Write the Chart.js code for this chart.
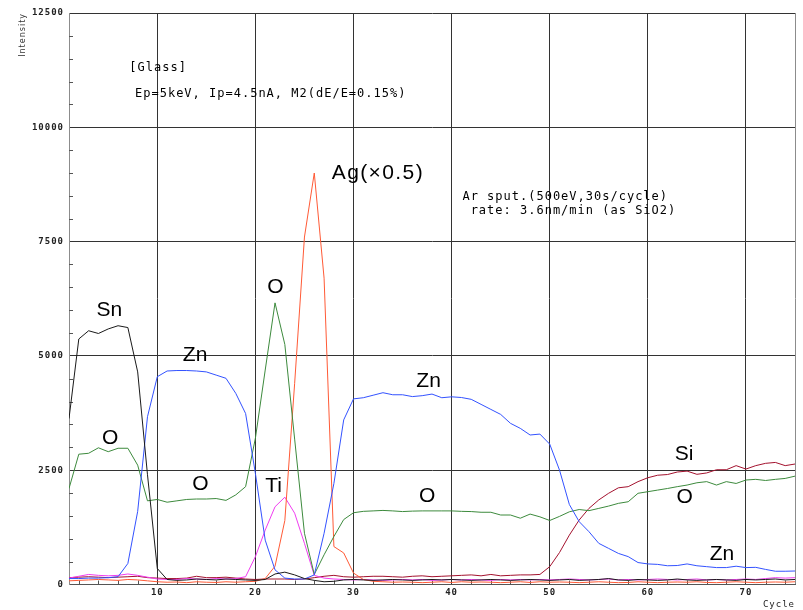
<!DOCTYPE html>
<html>
<head>
<meta charset="utf-8">
<script src="https://cdn.jsdelivr.net/npm/chart.js@4.4.1/dist/chart.umd.min.js"></script>
<style>
  html, body { margin: 0; padding: 0; background: #fff; }
  #wrap { width: 803px; height: 610px; }
</style>
</head>
<body>
<div id="wrap"><canvas id="chart" width="803" height="610"></canvas></div>
<script>
// ── Depth profile data (counts per sputter cycle) ──
const cycles = Array.from({ length: 75 }, (_, i) => i + 1);

const sn = [3630, 5370, 5550, 5490, 5590, 5660, 5620, 4650, 2400, 350,
            110, 90, 100, 120, 110, 100, 120, 110, 100, 90,
            110, 230, 270, 210, 130, 90, 60, 70, 100, 110,
            100, 90, 100, 110, 100, 90, 100, 110, 100, 110,
            100, 90, 100, 110, 100, 90, 100, 110, 100, 90,
            100, 110, 90, 100, 110, 130, 100, 90, 110, 100,
            90, 100, 120, 100, 90, 100, 110, 100, 90, 110,
            100, 110, 120, 100, 110];

const zn = [130, 130, 140, 140, 150, 170, 460, 1600, 3670, 4545,
            4670, 4680, 4680, 4670, 4650, 4580, 4510, 4180, 3740, 2430,
            970, 320, 140, 120, 120, 210, 1120, 2210, 3600, 4060,
            4085, 4140, 4195, 4150, 4150, 4110, 4130, 4165, 4085, 4105,
            4090, 4050, 3940, 3830, 3720, 3525, 3415, 3270, 3290, 3070,
            2500, 1750, 1375, 1155, 900, 790, 680, 610, 480, 450,
            440, 410, 415, 450, 410, 390, 370, 370, 400, 370,
            375, 330, 290, 290, 295];

const oxy = [2100, 2850, 2870, 2990, 2905, 2980, 2980, 2610, 1830, 1860,
             1800, 1830, 1860, 1870, 1870, 1880, 1840, 1960, 2140, 3200,
             4690, 6160, 5250, 3180, 1120, 220, 650, 1050, 1420, 1570,
             1600, 1610, 1620, 1610, 1595, 1605, 1610, 1610, 1610, 1610,
             1600, 1595, 1580, 1580, 1520, 1520, 1450, 1540, 1480, 1400,
             1490, 1590, 1640, 1615, 1665, 1715, 1775, 1810, 1995, 2030,
             2065, 2100, 2140, 2175, 2225, 2250, 2175, 2250, 2210, 2285,
             2300, 2275, 2300, 2320, 2370];

const ag = [80, 90, 100, 110, 100, 90, 110, 100, 80, 60,
            50, 55, 40, 60, 50, 45, 60, 50, 60, 70,
            130, 400, 1400, 4400, 7600, 9000, 6700, 830, 690, 250,
            110, 70, 60, 50, 55, 50, 40, 50, 60, 45,
            60, 50, 55, 50, 40, 50, 60, 45, 60, 50,
            55, 50, 40, 50, 60, 50, 40, 45, 60, 50,
            40, 50, 55, 50, 60, 45, 40, 50, 60, 50,
            40, 50, 55, 50, 60];

const ti = [140, 180, 220, 200, 190, 200, 230, 200, 160, 120,
            110, 110, 130, 120, 110, 130, 120, 130, 170, 610,
            1190, 1700, 1910, 1560, 900, 200, 140, 120, 110, 100,
            110, 100, 90, 100, 110, 100, 110, 90, 100, 110,
            100, 110, 100, 90, 110, 100, 110, 100, 110, 100,
            110, 120, 110, 100, 110, 120, 100, 110, 100, 110,
            120, 110, 100, 110, 120, 100, 110, 100, 110, 120,
            110, 130, 150, 140, 150];

const si = [150, 160, 170, 160, 150, 160, 170, 180, 150, 140,
            130, 130, 140, 180, 150, 150, 160, 140, 120, 110,
            120, 120, 120, 110, 120, 150, 180, 200, 170, 160,
            170, 180, 180, 170, 160, 180, 190, 170, 180, 190,
            200, 210, 190, 220, 190, 200, 210, 210, 220, 390,
            700, 1080, 1410, 1665, 1850, 1995, 2115, 2140, 2250, 2335,
            2390, 2405, 2460, 2480, 2410, 2440, 2510, 2510, 2600, 2525,
            2600, 2650, 2670, 2600, 2635];

// x ticks: labelled every 10 cycles, small marks every 2
const xMajor = [10, 20, 30, 40, 50, 60, 70];
const yMajor = [0, 2500, 5000, 7500, 10000, 12500];

// ── Element tags and header notes (anchored in data coords) ──
const tags = [
    ['Sn', 5.1, 6000], ['Zn', 13.85, 5010], ['O', 5.2, 3200], ['O', 14.4, 2200],
    ['O', 22.05, 6500], ['Ti', 21.85, 2160], ['Zn', 37.65, 4455], ['O', 37.5, 1940],
    ['Si', 63.7, 2860], ['O', 63.75, 1905], ['Zn', 67.55, 670],
];
const notes = [
    ['[Glass]', 7.15, 11290],
    ['Ep=5keV, Ip=4.5nA, M2(dE/E=0.15%)', 7.73, 10730],
    ['Ar sput.(500eV,30s/cycle)', 41.1, 8475],
    [' rate: 3.6nm/min (as SiO2)', 41.1, 8170],
];

const pts = arr => arr.map((v, i) => ({ x: cycles[i], y: v }));

function series(label, values, color) {
    return {
        label,
        data: pts(values),
        borderColor: color,
        backgroundColor: color,
        borderWidth: 1,
        pointRadius: 0,
        tension: 0,
    };
}

// ── Overlay: inner tick marks + annotation text ──
const overlay = {
    id: 'overlay',
    beforeDraw(chart) {
        chart.ctx.letterSpacing = '1px';
    },
    beforeDatasetsDraw(chart) {
        const { ctx, chartArea: a, scales: { x, y } } = chart;
        ctx.save();
        ctx.strokeStyle = '#555';
        ctx.lineWidth = 1;
        ctx.beginPath();
        y.ticks.forEach(t => {
            if (yMajor.includes(t.value)) return;
            const py = Math.round(y.getPixelForValue(t.value)) + 0.5;
            ctx.moveTo(a.left, py);
            ctx.lineTo(a.left + 4, py);
        });
        x.ticks.forEach(t => {
            if (xMajor.includes(t.value) || t.value === 75) return;
            const px = Math.round(x.getPixelForValue(t.value)) + 0.5;
            ctx.moveTo(px, a.bottom);
            ctx.lineTo(px, a.bottom - 4);
        });
        ctx.stroke();
        ctx.restore();
    },
    afterDatasetsDraw(chart) {
        const { ctx, scales: { x, y } } = chart;
        ctx.save();
        ctx.fillStyle = '#000';
        ctx.textBaseline = 'middle';

        ctx.letterSpacing = '0px';
        ctx.font = "21px 'Liberation Sans', Arial, sans-serif";
        ctx.textAlign = 'center';
        tags.forEach(([t, cx, cy]) => ctx.fillText(t, x.getPixelForValue(cx), y.getPixelForValue(cy)));
        // the × in the original is a wide glyph, so space this label out a bit
        ctx.textAlign = 'left';
        ctx.letterSpacing = '1.4px';
        ctx.fillText('Ag(×0.5)', x.getPixelForValue(27.78), y.getPixelForValue(8990));

        ctx.letterSpacing = '1px';
        ctx.font = "12px 'DejaVu Sans Mono', monospace";
        notes.forEach(([t, cx, cy]) => ctx.fillText(t, x.getPixelForValue(cx), y.getPixelForValue(cy)));
        ctx.restore();
    }
};

const tickFont = { family: "'DejaVu Sans Mono', monospace", size: 9, weight: 'bold' };

new Chart(document.getElementById('chart'), {
    type: 'line',
    data: {
        datasets: [
            series('Sn', sn, '#1a1a1a'),
            series('Zn', zn, '#3352ff'),
            series('O', oxy, '#3d8a3d'),
            series('Ag', ag, '#ff5a36'),
            series('Ti', ti, '#f03cf0'),
            series('Si', si, '#a3122e'),
        ]
    },
    options: {
        responsive: false,
        animation: false,
        layout: { padding: { top: 13, right: 8, left: 0, bottom: 0 } },
        plugins: {
            legend: { display: false },
            tooltip: { enabled: false },
        },
        scales: {
            x: {
                type: 'linear',
                min: 1,
                max: 75,
                afterBuildTicks: s => {
                    const t = [];
                    for (let v = 2; v <= 74; v += 2) t.push({ value: v });
                    t.push({ value: 75 });
                    s.ticks = t;
                },
                afterFit: s => { s.height = 25.5; },
                grid: {
                    drawTicks: false,
                    color: c => xMajor.includes(c.tick.value) ? '#333'
                              : c.tick.value === 75 ? '#8c8c8c' : 'rgba(0,0,0,0)',
                },
                border: { color: '#555' },
                ticks: {
                    autoSkip: false,
                    maxRotation: 0,
                    padding: 3,
                    color: '#222',
                    font: tickFont,
                    callback: v => xMajor.includes(v) ? String(v) : '',
                },
                title: {
                    display: true,
                    text: 'Cycle',
                    align: 'end',
                    padding: 0,
                    color: '#222',
                    font: { family: "'DejaVu Sans Mono', monospace", size: 9 },
                },
            },
            y: {
                min: 0,
                max: 12500,
                afterFit: s => { s.width = 69; },
                grid: {
                    drawTicks: false,
                    color: c => yMajor.includes(c.tick.value) ? '#333' : 'rgba(0,0,0,0)',
                },
                border: { color: '#8c8c8c' },
                ticks: {
                    stepSize: 500,
                    autoSkip: false,
                    padding: 5,
                    color: '#222',
                    font: tickFont,
                    callback: v => yMajor.includes(v) ? String(v) : '',
                },
                title: {
                    display: true,
                    text: 'Intensity',
                    align: 'end',
                    padding: { top: 18, bottom: 0 },
                    color: '#333',
                    font: { family: "'DejaVu Sans', sans-serif", size: 8 },
                },
            },
        },
    },
    plugins: [overlay],
});
</script>
</body>
</html>
